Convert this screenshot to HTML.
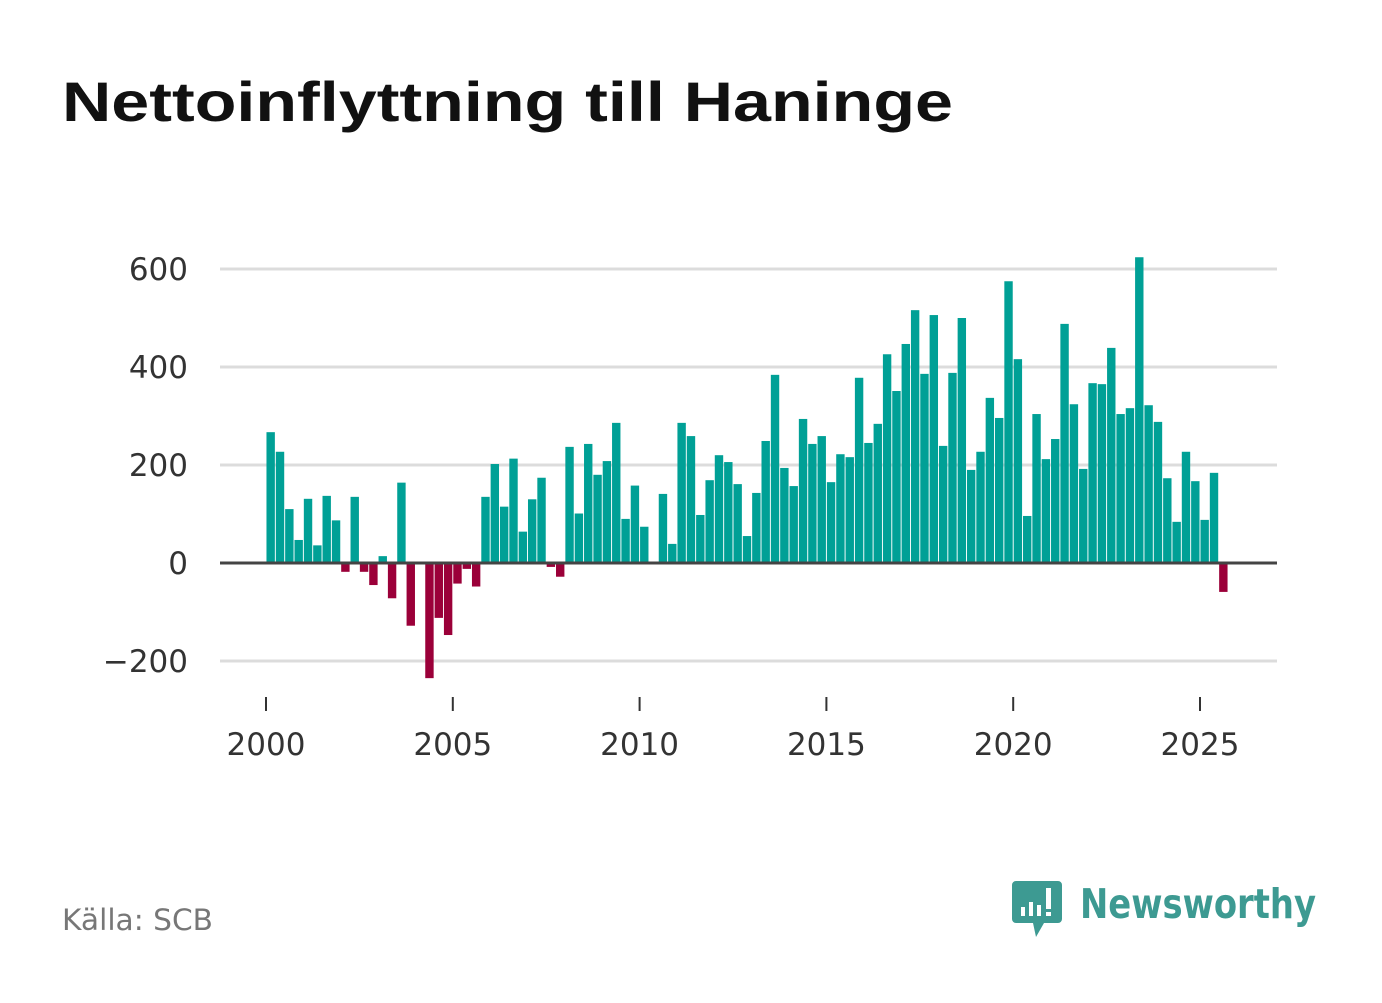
<!DOCTYPE html>
<html><head><meta charset="utf-8"><style>
body{margin:0;background:#fff;width:1382px;height:999px;overflow:hidden;font-family:"DejaVu Sans","Liberation Sans",sans-serif}
</style></head><body>
<svg id="chart" width="1382" height="999" xmlns="http://www.w3.org/2000/svg">
<text x="62" y="121" font-size="56" font-weight="bold" fill="#111" font-family="Liberation Sans, sans-serif" textLength="891" lengthAdjust="spacingAndGlyphs">Nettoinflyttning till Haninge</text>
<g id="grid"></g><g id="bars"></g><g id="axes"></g>
<text x="62" y="930" font-size="29" fill="#777" font-family="DejaVu Sans, sans-serif" textLength="151" lengthAdjust="spacingAndGlyphs">Källa: SCB</text>
<g>
<path d="M1016 881h42a4 4 0 0 1 4 4v34a4 4 0 0 1-4 4h-14l-8 14l-3-14h-17a4 4 0 0 1-4-4v-34a4 4 0 0 1 4-4z" fill="#3d9a92"/>
<rect x="1021" y="907" width="4" height="9" fill="#fff"/><rect x="1029" y="902" width="4" height="14" fill="#fff"/><rect x="1037" y="905" width="4" height="11" fill="#fff"/><rect x="1046" y="888" width="5" height="21" fill="#fff"/><rect x="1046" y="912" width="5" height="4" fill="#fff"/>
<text x="1080" y="918" font-size="41" font-weight="bold" fill="#3d9a92" font-family="DejaVu Sans, sans-serif" textLength="236" lengthAdjust="spacingAndGlyphs">Newsworthy</text>
</g>
</svg>
<script>
const startYear = 2000;
const values = [267,227,110,47, 131,36,137,87, -18,135,-18,-45, 14,-72,164,-128, 0,-235,-112,-147, -42,-12,-48,135,
202,115,213,64, 130,174,-8,-28, 237,101,243,180, 208,286,90,158, 74,0,141,39,
286,259,98,169, 220,206,161,55, 143,249,384,194, 157,294,243,259, 165,222,216,378,
245,284,426,351, 447,516,386,506, 239,388,500,190, 227,337,296,575, 416,96,304,212,
253,488,324,192, 367,365,439,304, 316,624,322,288, 173,84,227,167, 88,184,-59];
const yTicks = [-200,0,200,400,600];
const xTicks = [2000,2005,2010,2015,2020,2025];
const NS="http://www.w3.org/2000/svg";
const y = v => 563 - v*0.49;
const x = t => 266 + (t-2000)*37.36;
function mk(tag, attrs, parent){const e=document.createElementNS(NS,tag);for(const k in attrs)e.setAttribute(k,attrs[k]);parent.appendChild(e);return e;}
const grid=document.getElementById('grid'),bars=document.getElementById('bars'),axes=document.getElementById('axes');
yTicks.forEach(v=>{
  if(v!==0){const l=mk('line',{x1:220,x2:1277,y1:y(v),y2:y(v),stroke:'#dcdcdc','stroke-width':3},grid);
  
  }
  const t=mk('text',{x:188,y:y(v)+11,'text-anchor':'end','font-size':31,fill:'#333'},axes);
  t.textContent=v<0?'\u2212'+Math.abs(v):String(v);
  
  
});
values.forEach((v,i)=>{
  const cx=x(startYear+(i+0.5)/4);
  const r=mk('rect',{x:cx-4.2,width:8.4,y:Math.min(y(v),563),height:Math.abs(y(v)-563),fill:v>=0?'#00a096':'#9b0039'},bars);
  
  
});
const z=mk('line',{x1:220,x2:1277,y1:563,y2:563,stroke:'#444','stroke-width':3},axes);


xTicks.forEach(yr=>{
  const tk=mk('line',{x1:x(yr),x2:x(yr),y1:697,y2:711,stroke:'#333','stroke-width':2},axes);
  
  
  const t=mk('text',{x:x(yr),y:755,'text-anchor':'middle','font-size':31,fill:'#333'},axes);
  t.textContent=yr;
  
  
});
</script>
</body></html>
